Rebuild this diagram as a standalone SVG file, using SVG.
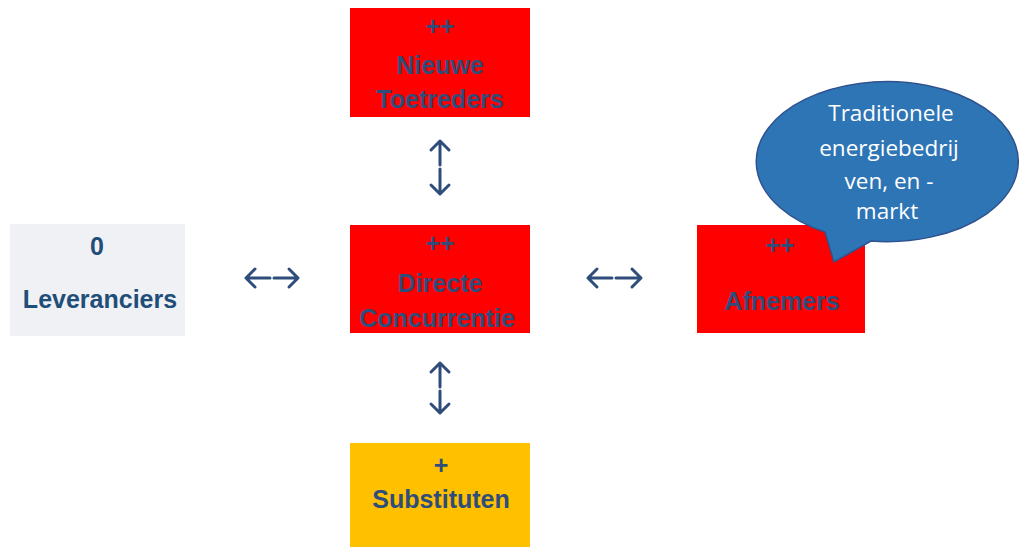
<svg xmlns="http://www.w3.org/2000/svg" width="1020" height="547" viewBox="0 0 1020 547">
<style>
  .box-red { fill: #FF0000; }
  .box-gray { fill: #F0F1F4; }
  .box-yellow { fill: #FFC000; }
  .lbl { font-family: "Liberation Sans", Arial, sans-serif; font-weight: bold; font-size: 25px; fill: #2E4D7B; text-anchor: middle; }
  .lbl-gray { fill: #1F4E79; }
  .call { font-family: "Open Sans", "Liberation Sans", sans-serif; font-size: 22.5px; fill: #FFFFFF; text-anchor: middle; }
  .arr { fill: none; stroke: #2E4D7B; stroke-width: 3; stroke-linecap: round; stroke-linejoin: round; }
</style>
<rect width="1020" height="547" fill="#FFFFFF"/>

<g id="node-nieuwe-toetreders">
  <rect class="box-red" x="350" y="8" width="180" height="109"/>
  <text class="lbl" x="440" y="35">++</text>
  <text class="lbl" x="440" y="74">Nieuwe</text>
  <text class="lbl" x="440" y="108">Toetreders</text>
</g>

<g id="node-directe-concurrentie">
  <rect class="box-red" x="350" y="225" width="180" height="108"/>
  <text class="lbl" x="440" y="252">++</text>
  <text class="lbl" x="440" y="292">Directe</text>
  <text class="lbl" x="437" y="327" font-size="27">Concurrentie</text>
</g>

<g id="node-leveranciers">
  <rect class="box-gray" x="10" y="224" width="175" height="112"/>
  <text class="lbl lbl-gray" x="97" y="255">0</text>
  <text class="lbl lbl-gray" x="100" y="308" font-size="24">Leveranciers</text>
</g>

<g id="node-afnemers">
  <rect class="box-red" x="697" y="225" width="168" height="108"/>
  <text class="lbl" x="780" y="254">++</text>
  <text class="lbl" x="782" y="310">Afnemers</text>
</g>

<g id="node-substituten">
  <rect class="box-yellow" x="350" y="443" width="180" height="104"/>
  <text class="lbl" x="441" y="474">+</text>
  <text class="lbl" x="441" y="508">Substituten</text>
</g>

<g id="callout">
  <path d="M825,232 L834,262 L871,241 A131,80 0 1 0 825,232 Z" fill="#2E75B6" stroke="#2F528F" stroke-width="1.5"/>
  <text class="call" x="891" y="121">Traditionele</text>
  <text class="call" x="889" y="156">energiebedrij</text>
  <text class="call" x="889" y="189">ven, en -</text>
  <text class="call" x="887" y="219">markt</text>
</g>

<g id="connectors">
  <!-- Leveranciers <-> Directe Concurrentie -->
  <path class="arr" d="M246,278 H270 M255,269 L246,278 L255,287"/>
  <path class="arr" d="M274,278 H298 M289,269 L298,278 L289,287"/>
  <!-- Directe Concurrentie <-> Afnemers -->
  <path class="arr" d="M588,278 H612 M597,269 L588,278 L597,287"/>
  <path class="arr" d="M616,278 H641 M632,269 L641,278 L632,287"/>
  <!-- Nieuwe Toetreders <-> Directe Concurrentie -->
  <path class="arr" d="M440,141 V165 M431,150 L440,141 L449,150"/>
  <path class="arr" d="M440,169 V194 M431,185 L440,194 L449,185"/>
  <!-- Directe Concurrentie <-> Substituten -->
  <path class="arr" d="M440,363 V387 M431,372 L440,363 L449,372"/>
  <path class="arr" d="M440,391 V413 M431,404 L440,413 L449,404"/>
</g>
</svg>
